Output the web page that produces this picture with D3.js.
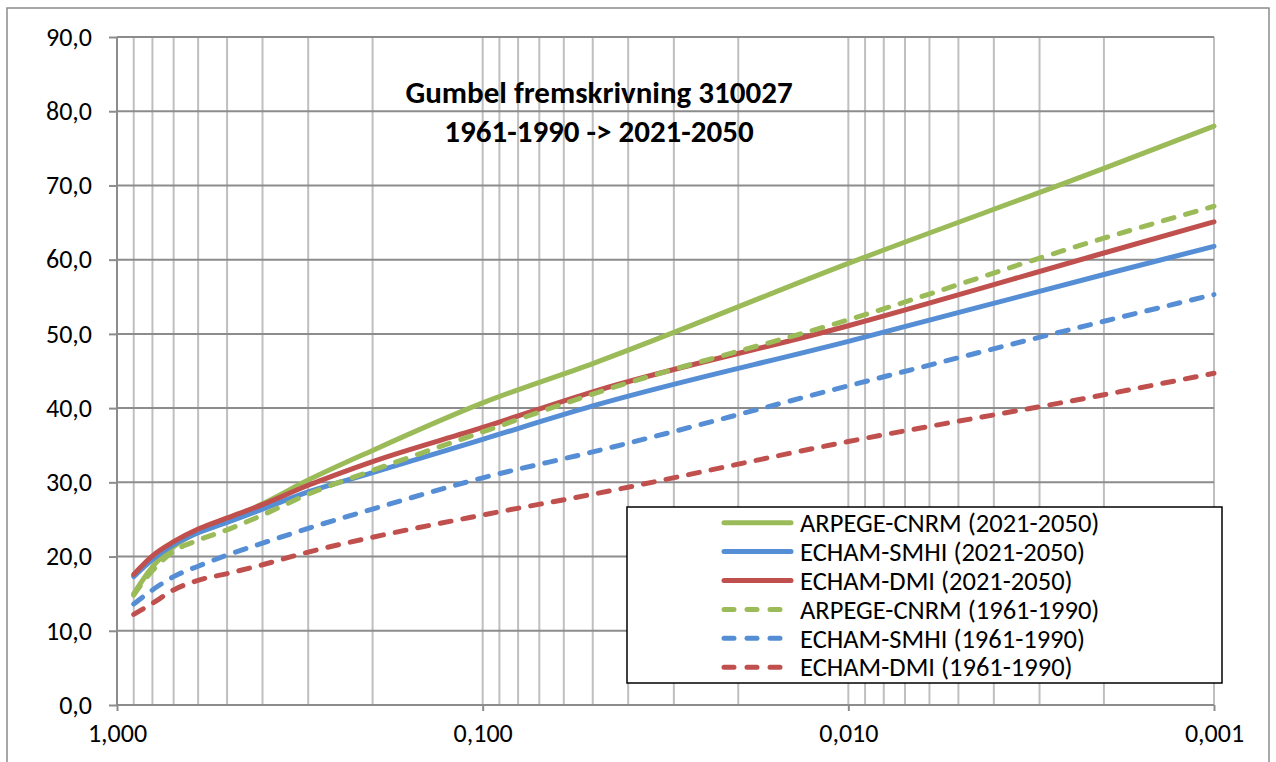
<!DOCTYPE html>
<html>
<head>
<meta charset="utf-8">
<script src="https://cdn.jsdelivr.net/npm/d3@7"></script>
<style>
  body { margin: 0; background: #fff; }
  text { font-family: Carlito, Calibri, Lato, sans-serif; fill: #000; }
</style>
</head>
<body>
<div id="chart"></div>
<script>
// exceedance probability on x, values on y
var probs = [0.9, 0.8, 0.7, 0.6, 0.5, 0.4, 0.3, 0.2, 0.1, 0.05, 0.01, 0.002, 0.001];

var arpege2021 = [15.0, 18.6, 21.3, 23.3, 24.9, 27.1, 30.3, 34.3, 40.7, 46.0, 59.5, 72.3, 78.0];
var smhi2021   = [17.3, 19.6, 21.6, 23.2, 24.6, 26.4, 28.7, 31.3, 35.8, 40.3, 49.0, 58.0, 61.8];
var dmi2021    = [17.6, 20.1, 22.0, 23.7, 25.2, 27.0, 29.6, 32.8, 37.4, 42.2, 51.1, 60.9, 65.1];
var arpege1961 = [14.8, 18.1, 20.7, 22.2, 23.6, 25.6, 28.4, 31.6, 36.8, 41.9, 51.9, 62.9, 67.2];
var smhi1961   = [13.6, 15.5, 17.3, 18.7, 20.2, 21.8, 23.8, 26.4, 30.6, 34.1, 43.0, 51.7, 55.3];
var dmi1961    = [12.2, 13.7, 15.5, 16.8, 17.7, 18.9, 20.6, 22.6, 25.6, 28.4, 35.5, 41.8, 44.7];

var seriesNames = ['ARPEGE-CNRM (2021-2050)', 'ECHAM-SMHI (2021-2050)', 'ECHAM-DMI (2021-2050)',
                   'ARPEGE-CNRM (1961-1990)', 'ECHAM-SMHI (1961-1990)', 'ECHAM-DMI (1961-1990)'];
var seriesValues = [arpege2021, smhi2021, dmi2021, arpege1961, smhi1961, dmi1961];
var seriesColors = ['#9bbb59', '#558ed5', '#c0504d', '#9bbb59', '#558ed5', '#c0504d'];
var seriesDashed = [false, false, false, true, true, true];

var xMajor = [1, 0.1, 0.01, 0.001];
var xTickLabels = ['1,000', '0,100', '0,010', '0,001'];
var yTicks = [0, 10, 20, 30, 40, 50, 60, 70, 80, 90];
var titleLines = ['Gumbel fremskrivning 310027', '1961-1990 -> 2021-2050'];

var width = 1276, height = 762;
var margin = {left: 117, right: 62, top: 37, bottom: 57};

var svg = d3.select('#chart').append('svg')
  .attr('width', width)
  .attr('height', height);

// outer chart border
svg.append('rect')
  .attr('x', 7).attr('y', 8)
  .attr('width', 1262).attr('height', 770)
  .attr('fill', 'none')
  .attr('stroke', '#8c8c8c')
  .attr('stroke-width', 1.5);

var x = d3.scaleLog()
  .domain([1, 0.001])
  .range([margin.left, width - margin.right]);

var y = d3.scaleLinear()
  .domain([0, 90])
  .range([height - margin.bottom, margin.top]);

// vertical gridlines at every log tick
svg.append('g')
  .selectAll('line')
  .data(x.ticks().filter(function(d) { return d < 1; }))
  .enter().append('line')
  .attr('x1', function(d) { return x(d); })
  .attr('x2', function(d) { return x(d); })
  .attr('y1', y(0))
  .attr('y2', y(90))
  .attr('stroke', '#bfbfbf')
  .attr('stroke-width', 2);

// horizontal gridlines
svg.append('g')
  .selectAll('line')
  .data(yTicks.filter(function(d) { return d > 0; }))
  .enter().append('line')
  .attr('x1', x(1))
  .attr('x2', x(0.001))
  .attr('y1', function(d) { return y(d); })
  .attr('y2', function(d) { return y(d); })
  .attr('stroke', '#8c8c8c')
  .attr('stroke-width', 2);

// y axis
var yAxis = d3.axisLeft(y)
  .tickValues(yTicks)
  .tickSize(8)
  .tickPadding(17)
  .tickFormat(function(d) { return d3.format('.1f')(d).replace('.', ','); });

var gy = svg.append('g')
  .attr('transform', 'translate(' + x(1) + ',0)')
  .call(yAxis);
gy.selectAll('path, line').attr('stroke', '#8c8c8c').attr('stroke-width', 2);
gy.select('.domain').attr('d', 'M0,' + y(0) + 'V' + y(90));
gy.selectAll('text').style('font-size', '26px').attr('font-family', null);

// x axis
var xAxis = d3.axisBottom(x)
  .tickValues(xMajor)
  .tickSize(6)
  .tickPadding(13)
  .tickFormat(function(d, i) { return xTickLabels[i]; });

var gx = svg.append('g')
  .attr('transform', 'translate(0,' + y(0) + ')')
  .call(xAxis);
gx.selectAll('path, line').attr('stroke', '#8c8c8c').attr('stroke-width', 2);
gx.select('.domain').attr('d', 'M' + x(1) + ',0H' + x(0.001));
gx.selectAll('text').style('font-size', '26px').attr('font-family', null);

// lines
var line = d3.line()
  .x(function(d) { return x(d[0]); })
  .y(function(d) { return y(d[1]); })
  .curve(d3.curveMonotoneX);

seriesValues.forEach(function(vals, i) {
  svg.append('path')
    .datum(vals.map(function(v, j) { return [probs[j], v]; }))
    .attr('d', line)
    .attr('fill', 'none')
    .attr('stroke', seriesColors[i])
    .attr('stroke-width', 5)
    .attr('stroke-linecap', 'round')
    .attr('stroke-linejoin', 'round')
    .attr('stroke-dasharray', seriesDashed[i] ? '11,12' : null);
});

// title
svg.append('g')
  .selectAll('text')
  .data(titleLines)
  .enter().append('text')
  .attr('x', 599)
  .attr('y', function(d, i) { return 103 + i * 38.5; })
  .attr('text-anchor', 'middle')
  .style('font-size', '31px')
  .style('font-weight', 'bold')
  .text(function(d) { return d; });

// legend
var legend = svg.append('g');
legend.append('rect')
  .attr('x', 627).attr('y', 507)
  .attr('width', 595).attr('height', 176)
  .attr('fill', '#fff')
  .attr('stroke', '#000')
  .attr('stroke-width', 1.5);

var rows = legend.selectAll('g.row')
  .data(seriesNames)
  .enter().append('g')
  .attr('class', 'row')
  .attr('transform', function(d, i) { return 'translate(0,' + (522.7 + i * 28.9) + ')'; });

rows.append('line')
  .attr('x1', 724).attr('x2', 791)
  .attr('stroke', function(d, i) { return seriesColors[i]; })
  .attr('stroke-width', 5)
  .attr('stroke-linecap', 'round')
  .attr('stroke-dasharray', function(d, i) { return seriesDashed[i] ? '10,13' : null; });

rows.append('text')
  .attr('x', 800)
  .attr('dy', '0.35em')
  .style('font-size', '26.5px')
  .text(function(d) { return d; });
</script>
</body>
</html>
